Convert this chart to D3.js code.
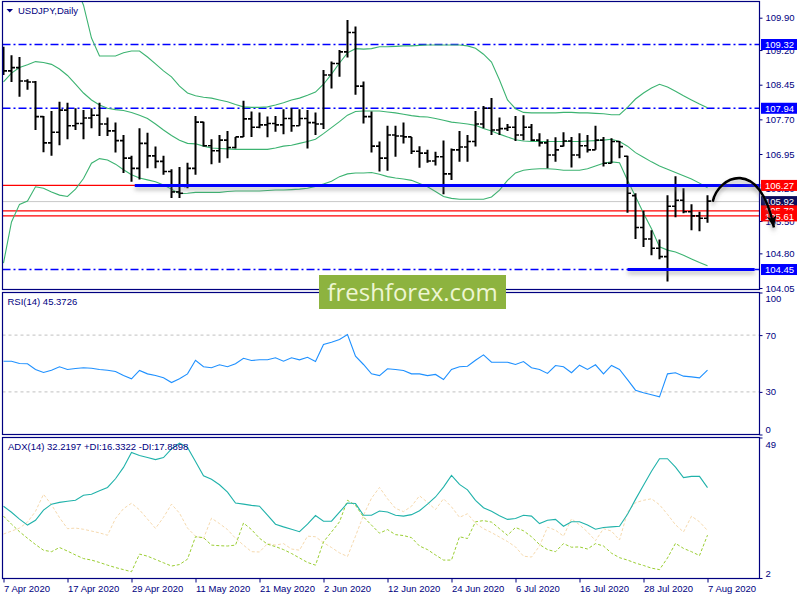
<!DOCTYPE html>
<html><head><meta charset="utf-8">
<script src="https://cdn.jsdelivr.net/npm/d3@7"></script>
<style>
body{margin:0;background:#fff;}
svg{display:block;font-family:"Liberation Sans",Arial,sans-serif;}
</style>
</head><body>
<svg id="c" width="800" height="600"></svg>
<script>
// ---------- DATA ----------
const dateLabels = ["7 Apr 2020","17 Apr 2020","29 Apr 2020","11 May 2020","21 May 2020","2 Jun 2020","12 Jun 2020","24 Jun 2020","6 Jul 2020","16 Jul 2020","28 Jul 2020","7 Aug 2020"];
const dateTickIdx = [0,8,16,24,32,40,48,56,64,72,80,88];
const priceTicks = [109.90,109.20,108.45,107.70,106.95,106.20,105.50,104.80,104.05];
const rsiTicks = [100,70,30,0];
const adxTicks = [49,2];

const opens = [109.20,108.75,108.82,108.53,108.51,107.76,107.19,107.42,107.90,107.56,
107.61,107.73,107.79,107.60,107.45,107.24,106.86,106.64,107.18,106.91,
106.79,106.57,106.13,106.25,106.64,107.64,107.13,107.02,107.25,107.09,
107.32,107.71,107.53,107.58,107.61,107.58,107.72,107.56,107.72,107.63,
107.60,108.66,108.91,109.16,109.58,108.42,107.76,107.12,106.86,107.36,
107.34,107.32,107.01,106.97,106.80,106.89,106.52,107.04,107.10,107.22,
107.60,107.94,107.47,107.50,107.53,107.36,107.53,107.25,107.19,106.93,
107.12,107.23,106.93,107.13,107.04,107.25,106.75,107.22,106.90,106.05,
105.36,105.11,104.91,104.73,105.82,105.95,105.70,105.61,105.56];
const highs = [109.27,109.09,109.05,108.57,108.53,107.77,107.88,108.08,108.06,107.94,
107.90,107.94,108.06,107.74,107.63,107.36,106.91,107.51,107.41,107.11,
106.91,106.62,106.67,106.76,107.77,107.65,107.27,107.36,107.45,107.32,
108.10,107.87,107.85,107.76,107.77,107.92,107.94,107.92,107.90,107.85,
108.77,108.95,109.20,109.85,109.71,108.52,107.87,107.22,107.56,107.56,
107.63,107.32,107.12,107.04,107.00,107.24,107.07,107.45,107.36,107.88,
107.99,108.16,107.74,107.60,107.77,107.79,107.60,107.40,107.27,107.31,
107.42,107.32,107.40,107.36,107.56,107.32,107.29,107.23,106.91,106.10,
105.72,105.30,105.10,106.06,106.47,106.21,105.86,105.70,106.06];
const lows = [108.66,108.51,108.19,108.34,107.47,106.99,106.91,107.14,107.27,107.47,
107.27,107.51,107.34,107.34,106.98,106.54,106.35,106.40,106.64,106.64,
106.50,106.00,106.00,106.21,106.50,107.11,106.73,106.76,106.86,107.07,
107.32,107.32,107.51,107.31,107.43,107.38,107.43,107.56,107.07,107.36,
107.49,108.37,108.62,109.04,108.23,107.61,106.98,106.57,106.59,106.89,
107.18,106.95,106.65,106.76,106.70,106.08,106.39,106.78,106.78,107.11,
107.51,107.36,107.36,107.45,107.23,107.25,107.23,107.11,106.64,106.78,
107.11,106.66,106.86,106.98,107.04,106.68,106.75,106.86,105.68,105.11,
104.94,104.76,104.67,104.19,105.58,105.67,105.30,105.28,105.46];
const closes = [108.75,108.82,108.53,108.51,107.76,107.19,107.42,107.90,107.56,107.61,
107.73,107.79,107.60,107.45,107.24,106.86,106.64,107.18,106.91,106.79,
106.57,106.13,106.10,106.64,107.64,107.13,107.02,107.25,107.09,107.32,
107.71,107.53,107.58,107.61,107.58,107.72,107.56,107.72,107.63,107.60,
108.66,108.91,109.16,109.58,108.42,107.76,107.12,106.86,107.36,107.34,
107.32,107.01,106.97,106.80,106.89,106.52,107.04,107.10,107.22,107.60,
107.94,107.47,107.50,107.53,107.36,107.53,107.25,107.19,106.93,107.04,
107.23,106.93,107.13,107.04,107.25,106.75,107.22,107.11,106.10,105.36,
105.11,104.91,104.73,105.82,105.95,105.70,105.61,105.56,105.93];

const bbUpper = [113.6,113.4,113.1,112.8,112.5,112.2,111.9,111.5,111.1,110.6,
110.17,109.46,109.07,109.07,109.07,109.14,109.18,109.18,109.05,108.90,
108.75,108.62,108.42,108.27,108.21,108.18,108.16,108.12,108.08,108.02,
107.97,107.96,107.96,107.97,108.01,108.06,108.12,108.16,108.22,108.29,
108.46,108.68,108.92,109.14,109.23,109.22,109.23,109.27,109.27,109.28,
109.29,109.29,109.30,109.31,109.31,109.31,109.31,109.31,109.29,109.24,
109.11,108.94,108.55,108.12,107.93,107.85,107.84,107.84,107.84,107.84,
107.85,107.85,107.84,107.84,107.83,107.82,107.80,107.80,107.96,108.14,
108.27,108.38,108.46,108.40,108.31,108.21,108.12,108.03,107.95];
const bbMiddle = [108.51,108.70,108.82,108.88,108.95,108.93,108.89,108.79,108.65,108.46,
108.27,108.12,108.01,107.94,107.91,107.89,107.85,107.79,107.72,107.60,
107.47,107.35,107.25,107.18,107.17,107.12,107.08,107.07,107.06,107.05,
107.05,107.05,107.05,107.05,107.08,107.12,107.14,107.18,107.22,107.27,
107.39,107.52,107.65,107.79,107.87,107.88,107.88,107.88,107.86,107.84,
107.81,107.78,107.76,107.75,107.72,107.68,107.64,107.62,107.60,107.57,
107.50,107.45,107.38,107.32,107.26,107.23,107.22,107.22,107.22,107.22,
107.22,107.22,107.22,107.23,107.24,107.25,107.27,107.22,107.12,106.98,
106.88,106.78,106.69,106.62,106.55,106.48,106.41,106.32,106.22];
const bbLower = [104.59,105.48,105.86,105.93,106.24,106.21,106.13,106.06,106.03,106.19,
106.42,106.75,106.85,106.82,106.73,106.61,106.50,106.43,106.39,106.35,
106.28,106.19,106.09,106.10,106.12,106.12,106.12,106.12,106.14,106.15,
106.15,106.15,106.15,106.16,106.17,106.17,106.18,106.19,106.21,106.25,
106.30,106.36,106.46,106.52,106.54,106.54,106.55,106.51,106.46,106.43,
106.41,106.38,106.31,106.24,106.14,106.03,105.99,105.97,105.97,105.97,
105.97,106.02,106.17,106.38,106.54,106.60,106.62,106.63,106.63,106.62,
106.60,106.60,106.60,106.63,106.69,106.75,106.78,106.76,106.38,106.03,
105.67,105.33,104.94,104.87,104.83,104.76,104.68,104.60,104.53];

const rsi = [51.6,51.6,50.0,49.8,45.8,43.7,45.3,47.7,45.8,46.5,
47.0,46.7,45.8,45.3,44.4,41.5,39.2,45.1,42.7,41.5,
39.9,36.6,39.2,42.7,52.3,47.7,47.0,49.1,47.7,49.8,
53.7,52.1,52.6,52.6,54.0,51.6,54.0,52.6,54.4,51.4,
63.4,65.0,66.9,70.4,55.1,49.3,42.7,41.5,46.3,45.8,
45.1,42.7,42.7,41.5,42.3,38.7,45.8,47.7,48.1,52.3,
56.1,50.9,50.9,50.9,49.3,51.4,47.0,45.8,43.0,48.6,
47.7,43.5,48.8,45.8,49.1,42.7,48.6,45.8,38.7,31.2,
29.4,28.0,26.5,42.7,43.5,41.1,40.6,39.9,45.37];

const adx = [26.0,24.0,21.7,19.7,21.3,24.7,26.7,27.3,27.7,28.0,
29.7,30.0,31.2,32.3,35.2,39.0,44.0,43.0,42.3,41.6,
42.3,45.2,47.1,45.7,41.0,36.2,35.0,33.2,30.7,27.1,
26.7,26.3,26.0,23.0,20.0,19.1,18.3,17.5,20.0,22.9,
21.0,21.0,24.0,27.1,26.9,23.0,23.0,24.4,24.1,23.0,
22.7,23.2,24.5,26.7,29.1,32.4,36.3,33.3,31.5,28.0,
25.5,24.3,22.8,21.6,21.9,23.0,22.7,20.2,21.3,21.6,
19.3,20.8,20.8,19.7,18.3,18.9,19.1,19.3,23.3,28.3,
33.0,37.7,41.9,41.9,39.1,35.6,36.0,36.0,32.22];
const plusDI = [22.7,20.0,17.5,15.3,13.2,11.3,10.8,12.2,11.0,9.7,
8.5,8.0,7.2,6.3,5.5,4.8,4.1,10.0,9.3,8.2,
7.1,6.0,6.5,8.3,15.8,15.5,13.0,12.8,12.7,13.0,
20.4,18.2,15.3,13.3,12.5,11.5,10.2,8.7,7.2,6.3,
14.1,17.4,20.8,28.0,26.3,22.4,19.7,17.0,18.2,16.5,
16.2,15.5,12.7,11.5,9.7,8.0,8.0,15.8,15.2,20.8,
21.2,20.7,18.5,16.3,18.9,17.8,15.8,13.2,11.5,10.8,
13.5,12.3,12.4,11.7,13.5,12.7,10.3,8.8,8.0,7.0,
6.2,5.3,4.8,8.7,13.6,11.9,10.8,9.5,16.33];
const minusDI = [16.7,17.7,18.7,20.7,24.3,30.0,26.5,22.2,18.5,18.7,
18.3,17.7,17.1,16.3,21.9,25.2,27.0,24.8,21.7,18.6,
22.3,26.7,23.7,18.7,16.0,15.2,22.0,20.2,18.2,15.3,
13.0,10.8,10.7,13.5,13.0,13.5,11.7,11.3,16.0,15.8,
13.8,12.2,10.4,9.2,16.0,23.0,28.7,32.3,28.5,25.3,
24.2,26.0,29.5,27.3,24.9,28.5,25.8,22.3,23.5,20.3,
18.5,17.2,15.7,14.2,12.4,9.3,9.0,12.7,19.0,18.0,
16.0,21.8,19.8,17.4,14.5,18.5,17.7,14.7,24.0,27.2,
28.0,28.5,26.5,23.3,19.8,17.4,22.7,20.8,17.89];

const dashDotLevels = [109.32, 107.94, 104.45];
const redLevels = [106.27, 105.72, 105.61];
const bidLevel = 105.92;
// analyst trend lines: [fromBarIndex, toBarIndex, price]
const thickLines = [[16.4, 94.6, 106.27],[78.0, 93.9, 104.45]];
// curved arrow, (barIndex, price) control points
const arrowPts = [[88.65,105.917],[89.31,106.474],[94.56,106.907],[96.3,105.36]];
// price tags on axis
const tags = [
  {p:109.32, c:"#0000ff"},
  {p:107.94, c:"#0000ff"},
  {p:106.27, c:"#ff0000"},
  {p:105.92, c:"#0c0c5c"},
  {p:105.72, c:"#ff0000"},
  {p:105.61, c:"#ff0000"},
  {p:104.45, c:"#0000ff"}
];
const titleText = "USDJPY,Daily";
const rsiText = "RSI(14) 45.3726";
const adxText = "ADX(14) 32.2197 +DI:16.3322 -DI:17.8898";

// ---------- LAYOUT ----------
const L = 2.5, R = 759.5;
const main = {t:1.5, b:289.5}, rp = {t:292.5, b:434.5}, ap = {t:437.5, b:578.5};
const NAVY = "#000080";
const FS = "9.5px";

const svg = d3.select("#c");
const defs = svg.append("defs");
[["cMain",main],["cRsi",rp],["cAdx",ap]].forEach(([id,p])=>{
  defs.append("clipPath").attr("id",id).append("rect")
    .attr("x",L).attr("y",p.t).attr("width",R-L).attr("height",p.b-p.t);
});
const f = defs.append("filter").attr("id","shadow").attr("filterUnits","userSpaceOnUse")
  .attr("x",0).attr("y",0).attr("width",800).attr("height",600);
f.append("feDropShadow").attr("dx",0).attr("dy",3).attr("stdDeviation",2.2)
  .attr("flood-color","#777").attr("flood-opacity",0.55);
defs.append("marker").attr("id","ah").attr("markerUnits","userSpaceOnUse")
  .attr("markerWidth",14).attr("markerHeight",12).attr("refX",12).attr("refY",5)
  .attr("orient","auto").append("path").attr("d","M0,0 L12,5 L0,10 L3,5 Z").attr("fill","#000");

const x = d3.scaleLinear().domain([0,88]).range([3.5,707.5]);
const yP = d3.scaleLinear().domain([104.05,109.90]).range([288,17.7]);
const yR = d3.scaleLinear().domain([0,100]).range([rp.b, rp.t]);
const yA = d3.scaleLinear().domain([2,49]).range([ap.b-0.5, ap.t]);
const idx = d3.range(closes.length);

// ---------- MAIN PANEL ----------
const gm = svg.append("g").attr("clip-path","url(#cMain)");
dashDotLevels.forEach(p=>{
  gm.append("line").attr("x1",L).attr("x2",R).attr("y1",yP(p)).attr("y2",yP(p))
    .attr("stroke","#0000ff").attr("stroke-width",1.4).attr("stroke-dasharray","8,3,2,3");
});
gm.append("line").attr("x1",L).attr("x2",R).attr("y1",yP(bidLevel)).attr("y2",yP(bidLevel))
  .attr("stroke","#c8c8c8").attr("stroke-width",1);
redLevels.forEach(p=>{
  gm.append("line").attr("x1",L).attr("x2",R).attr("y1",yP(p)).attr("y2",yP(p))
    .attr("stroke","#ff0000").attr("stroke-width",1.4);
});
const bbLine = arr => d3.line().x(i=>x(i)).y(i=>yP(arr[i]))(idx);
[bbUpper,bbMiddle,bbLower].forEach(arr=>{
  gm.append("path").attr("d",bbLine(arr)).attr("fill","none")
    .attr("stroke","#3cb371").attr("stroke-width",1.1);
});
const bars = gm.append("g").attr("stroke","#000");
idx.forEach(i=>{
  const cx = x(i);
  bars.append("line").attr("x1",cx).attr("x2",cx).attr("y1",yP(highs[i])).attr("y2",yP(lows[i])).attr("stroke-width",2);
  bars.append("line").attr("x1",cx-3.5).attr("x2",cx).attr("y1",yP(opens[i])).attr("y2",yP(opens[i])).attr("stroke-width",1.6);
  bars.append("line").attr("x1",cx).attr("x2",cx+3.5).attr("y1",yP(closes[i])).attr("y2",yP(closes[i])).attr("stroke-width",1.6);
});
thickLines.forEach(([a,b,p])=>{
  svg.append("line").attr("x1",x(a)).attr("x2",x(b)).attr("y1",yP(p)).attr("y2",yP(p))
    .attr("stroke","#0000ff").attr("stroke-width",3).attr("filter","url(#shadow)");
});

// ---------- RSI PANEL ----------
const gr = svg.append("g").attr("clip-path","url(#cRsi)");
[70,30].forEach(v=>{
  gr.append("line").attr("x1",L).attr("x2",R).attr("y1",yR(v)).attr("y2",yR(v))
    .attr("stroke","#c0c0c0").attr("stroke-width",1).attr("stroke-dasharray","3,3");
});
gr.append("path").attr("d",d3.line().x(i=>x(i)).y(i=>yR(rsi[i]))(idx))
  .attr("fill","none").attr("stroke","#1e90ff").attr("stroke-width",1.1);

// ---------- ADX PANEL ----------
const ga = svg.append("g").attr("clip-path","url(#cAdx)");
const aLine = arr => d3.line().x(i=>x(i)).y(i=>yA(arr[i]))(idx);
ga.append("path").attr("d",aLine(minusDI)).attr("fill","none").attr("stroke","#f5d9ae").attr("stroke-width",1).attr("stroke-dasharray","3,2");
ga.append("path").attr("d",aLine(plusDI)).attr("fill","none").attr("stroke","#9acd32").attr("stroke-width",1).attr("stroke-dasharray","3,2");
ga.append("path").attr("d",aLine(adx)).attr("fill","none").attr("stroke","#20b2aa").attr("stroke-width",1.1);

// ---------- PANEL BORDERS ----------
[main,rp,ap].forEach(p=>{
  svg.append("rect").attr("x",L).attr("y",p.t).attr("width",R-L).attr("height",p.b-p.t)
    .attr("fill","none").attr("stroke",NAVY).attr("stroke-width",1.2);
});

// ---------- AXES ----------
function styleAxis(g){
  g.select(".domain").remove();
  g.selectAll("line").attr("stroke",NAVY);
  g.selectAll("text").attr("fill",NAVY).style("font-size",FS).style("font-family","'Liberation Sans',Arial,sans-serif");
}
const axP = svg.append("g").attr("transform",`translate(${R},0)`)
  .call(d3.axisRight(yP).tickValues(priceTicks).tickSize(3).tickPadding(3).tickFormat(d3.format(".2f")));
styleAxis(axP);
const axR = svg.append("g").attr("transform",`translate(${R},0)`)
  .call(d3.axisRight(yR).tickValues(rsiTicks).tickSize(3).tickPadding(3).tickFormat(d3.format("d")));
styleAxis(axR);
axR.selectAll("text").attr("dy",d=> d===100 ? "0.95em" : d===0 ? "-0.25em" : "0.32em");
const axA = svg.append("g").attr("transform",`translate(${R},0)`)
  .call(d3.axisRight(yA).tickValues(adxTicks).tickSize(3).tickPadding(3).tickFormat(d3.format("d")));
styleAxis(axA);
axA.selectAll("text").attr("dy",d=> d===49 ? "1.05em" : "-0.2em");
const axX = svg.append("g").attr("transform",`translate(0,${ap.b})`)
  .call(d3.axisBottom(x).tickValues(dateTickIdx).tickSize(4).tickPadding(3).tickFormat((d,i)=>dateLabels[i]));
styleAxis(axX);
axX.selectAll("text").attr("text-anchor","start").attr("x",0);

// ---------- PRICE TAGS ----------
tags.forEach(t=>{
  const yy = yP(t.p);
  svg.append("rect").attr("x",761).attr("y",yy-5.5).attr("width",36).attr("height",11).attr("fill",t.c);
  svg.append("text").attr("x",765).attr("y",yy+3.6).attr("fill","#fff").style("font-size",FS).text(t.p.toFixed(2));
});

// ---------- LABELS ----------
svg.append("path").attr("d","M6.5,9 L13,9 L9.75,12.5 Z").attr("fill",NAVY);
svg.append("text").attr("x",18).attr("y",14).attr("fill",NAVY).style("font-size",FS).text(titleText);
svg.append("text").attr("x",7.5).attr("y",305).attr("fill",NAVY).style("font-size",FS).text(rsiText);
svg.append("text").attr("x",8).attr("y",450).attr("fill",NAVY).style("font-size",FS).text(adxText);

// ---------- WATERMARK ----------
svg.append("rect").attr("x",319).attr("y",275).attr("width",187).attr("height",34).attr("fill","#8db33f");
svg.append("text").attr("x",412.5).attr("y",300.5).attr("text-anchor","middle")
  .style("font-family","'Open Sans',sans-serif").style("font-size","24px").attr("fill","#eef6d2").text("freshforex.com");

// ---------- ARROW ----------
const ap2 = arrowPts.map(([i,p])=>[x(i),yP(p)]);
const pth = d3.path();
pth.moveTo(...ap2[0]); pth.bezierCurveTo(...ap2[1],...ap2[2],...ap2[3]);
svg.append("path").attr("d",pth.toString()).attr("fill","none").attr("stroke","#000")
  .attr("stroke-width",2.6).attr("marker-end","url(#ah)").attr("filter","url(#shadow)");
</script>
</body></html>
